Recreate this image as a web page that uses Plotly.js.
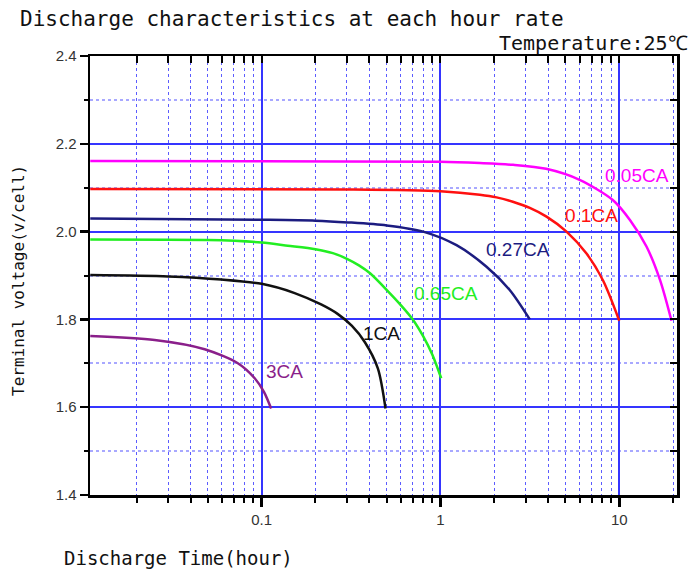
<!DOCTYPE html>
<html>
<head>
<meta charset="utf-8">
<script src="https://cdn.plot.ly/plotly-3.0.1.min.js"></script>
<style>html,body{margin:0;padding:0;background:#fff;}#chart{width:694px;height:573px;}</style>
</head>
<body>
<div id="chart"></div>
<script>
// Discharge time (hour) and terminal voltage (V/cell) per rate
const t005 = [0.011, 0.1, 1, 1.66, 2.55, 3.9, 6.0, 9.2, 11.5, 14.2, 16.9, 19.6];
const v005 = [2.161, 2.160, 2.159, 2.156, 2.152, 2.143, 2.118, 2.072, 2.026, 1.966, 1.89, 1.797];

const t01 = [0.011, 0.3, 1, 1.66, 2.06, 2.54, 3.16, 3.92, 5.07, 6.56, 8.13, 10];
const v01 = [2.097, 2.096, 2.092, 2.084, 2.078, 2.068, 2.054, 2.034, 2.0, 1.95, 1.888, 1.797];

const t027 = [0.011, 0.1, 0.2, 0.304, 0.5, 0.8, 1.23, 1.81, 2.44, 3.16];
const v027 = [2.030, 2.027, 2.025, 2.021, 2.014, 2.0, 1.969, 1.92, 1.867, 1.80];

const t065 = [0.011, 0.05, 0.0706, 0.1, 0.14, 0.2, 0.25, 0.3, 0.35, 0.404, 0.52, 0.59, 0.70, 0.80, 0.9, 1.01];
const v065 = [1.982, 1.981, 1.979, 1.975, 1.968, 1.960, 1.951, 1.938, 1.923, 1.905, 1.860, 1.836, 1.80, 1.762, 1.72, 1.666];

const t1 = [0.011, 0.03, 0.0594, 0.1, 0.153, 0.215, 0.267, 0.32, 0.378, 0.447, 0.493];
const v1 = [1.901, 1.898, 1.891, 1.881, 1.860, 1.834, 1.812, 1.785, 1.748, 1.688, 1.597];

const t3 = [0.011, 0.0252, 0.048, 0.0736, 0.0914, 0.103, 0.113];
const v3 = [1.762, 1.753, 1.732, 1.70, 1.666, 1.635, 1.597];

const seriesNames = ['0.05CA', '0.1CA', '0.27CA', '0.65CA', '1CA', '3CA'];
const seriesColors = ['#ff00ff', '#ff1010', '#1c1c80', '#22ee22', '#111111', '#8a1f8a'];

const majorX = [0.1, 1, 10];
const majorXText = ['0.1', '1', '10'];
const minorX = [0.02,0.03,0.04,0.05,0.06,0.07,0.08,0.09,
                0.2,0.3,0.4,0.5,0.6,0.7,0.8,0.9,
                2,3,4,5,6,7,8,9,20];
const majorY = [1.4, 1.6, 1.8, 2.0, 2.2, 2.4];
const majorYText = ['1.4', '1.6', '1.8', '2.0', '2.2', '2.4'];
const minorY = [1.5, 1.7, 1.9, 2.1, 2.3];

const labelPos = [[0.9313,0.7273],[0.854,0.6378],[0.7291,0.5581],[0.6065,0.4601],[0.4969,0.3679],[0.3317,0.2813]];

const xs = [t005, t01, t027, t065, t1, t3];
const ys = [v005, v01, v027, v065, v1, v3];

const traces = xs.map((x, i) => ({
  x: x, y: ys[i], type: 'scatter', mode: 'lines', name: seriesNames[i],
  line: {color: seriesColors[i], width: 2.5, shape: 'spline', smoothing: 0.8},
  showlegend: false, hoverinfo: 'skip'
}));
traces.push({x: [], y: [], xaxis: 'x2', yaxis: 'y2', showlegend: false});

const xr = [-1.96, 1.323];
const yr = [1.4, 2.4];
const tickFont = {family: 'Liberation Sans, Arial, sans-serif', size: 15, color: '#333'};
const mono = 'DejaVu Sans Mono, Liberation Mono, monospace';
const majorGrid = '#3535ff';
const minorGridX = '#5c5cff';
const minorGridY = '#a8a8ff';

const annotations = seriesNames.map((n, i) => ({
  text: n, xref: 'paper', yref: 'paper', x: labelPos[i][0], y: labelPos[i][1],
  xanchor: 'center', yanchor: 'middle', showarrow: false,
  font: {family: 'Liberation Sans, Arial, sans-serif', size: 19, color: seriesColors[i]}
}));
annotations.push({text: 'Discharge characteristics at each hour rate', xref: 'paper', yref: 'paper',
  x: -0.1227, y: 1.0843, xanchor: 'left', yanchor: 'middle', showarrow: false,
  font: {family: mono, size: 21, color: '#111'}});
annotations.push({text: 'Temperature:25℃', xref: 'paper', yref: 'paper',
  x: 1.022, y: 1.0296, xanchor: 'right', yanchor: 'middle', showarrow: false,
  font: {family: mono, size: 20, color: '#111'}});
annotations.push({text: 'Discharge Time(hour)', xref: 'paper', yref: 'paper',
  x: -0.0477, y: -0.1435, xanchor: 'left', yanchor: 'middle', showarrow: false,
  font: {family: mono, size: 19, color: '#111'}});
annotations.push({text: 'Terminal voltage(v/cell)', xref: 'paper', yref: 'paper',
  x: -0.1227, y: 0.4897, xanchor: 'center', yanchor: 'middle', textangle: -90, showarrow: false,
  font: {family: mono, size: 16, color: '#111'}});

const layout = {
  width: 694, height: 573,
  margin: {l: 90, r: 17, t: 56, b: 78},
  paper_bgcolor: '#fff', plot_bgcolor: '#fff',
  xaxis: {
    type: 'log', range: xr, tickmode: 'array', tickvals: majorX, ticktext: majorXText,
    ticks: 'outside', ticklen: 9, tickwidth: 2.5, tickcolor: '#000', tickfont: tickFont,
    showgrid: true, gridcolor: majorGrid, gridwidth: 2,
    showline: true, linecolor: '#000', linewidth: 2.5, mirror: true, zeroline: false,
    minor: {tickmode: 'array', tickvals: minorX, ticks: 'outside', ticklen: 5, tickwidth: 2,
            tickcolor: '#000', showgrid: true, gridcolor: minorGridX, gridwidth: 1, griddash: 'dot'}
  },
  xaxis2: {
    type: 'log', range: xr, overlaying: 'x', side: 'top', anchor: 'y2', tickmode: 'array',
    tickvals: minorX.concat(majorX), showticklabels: false,
    ticks: 'inside', ticklen: 7, tickwidth: 2, tickcolor: '#000',
    showgrid: false, showline: false, zeroline: false
  },
  yaxis: {
    range: yr, tickmode: 'array', tickvals: majorY, ticktext: majorYText,
    ticks: 'outside', ticklen: 8, tickwidth: 2.5, tickcolor: '#000', tickfont: tickFont,
    showgrid: true, gridcolor: majorGrid, gridwidth: 2,
    showline: true, linecolor: '#000', linewidth: 2.5, mirror: true, zeroline: false,
    minor: {tickmode: 'array', tickvals: minorY, ticks: 'outside', ticklen: 4, tickwidth: 2,
            tickcolor: '#000', showgrid: true, gridcolor: minorGridY, gridwidth: 2, griddash: 'dot'}
  },
  yaxis2: {
    range: yr, overlaying: 'y', side: 'right', anchor: 'x2', tickmode: 'array',
    tickvals: majorY.concat(minorY), showticklabels: false,
    ticks: 'inside', ticklen: 7, tickwidth: 2, tickcolor: '#000',
    showgrid: false, showline: false, zeroline: false
  },
  annotations: annotations
};

Plotly.newPlot('chart', traces, layout, {displayModeBar: false, staticPlot: true});
</script>
</body>
</html>
